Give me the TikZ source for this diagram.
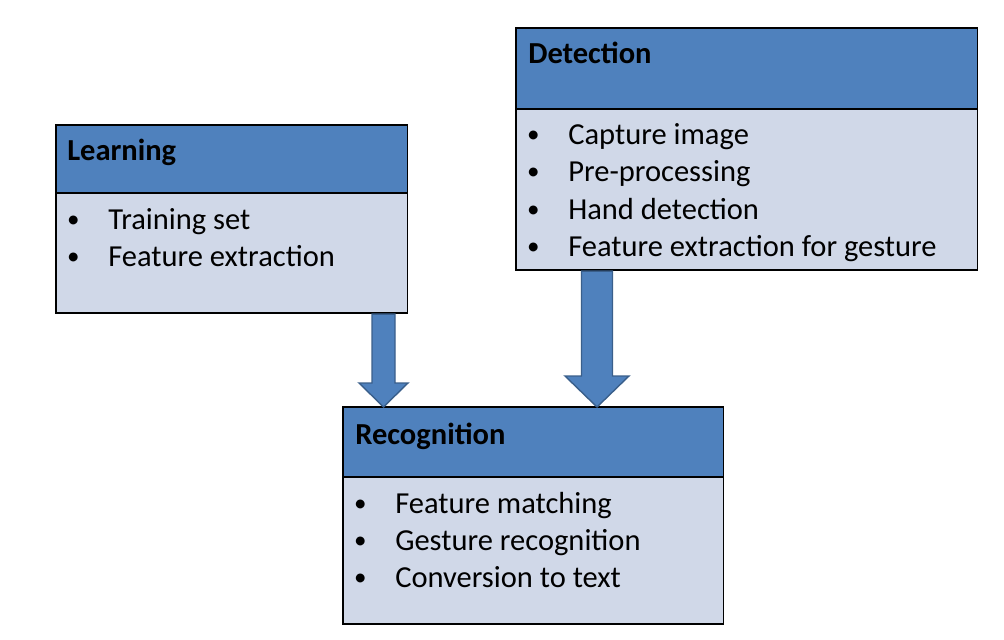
\documentclass[tikz,border=0pt]{standalone}
\usepackage{fontspec}
\usepackage{graphicx}
\setmainfont{Carlito}
\usetikzlibrary{calc,positioning}
\definecolor{headblue}{HTML}{4F81BD}
\definecolor{bodyblue}{HTML}{D0D8E8}
\definecolor{arrowedge}{HTML}{3A5F8B}
\newcommand{\boxfont}{\fontsize{21.7}{26}\selectfont}
\tikzset{head/.style={draw=black, fill=headblue, line width=.8pt, inner sep=0pt, outer sep=0pt, anchor=north west}, listbox/.style={draw=black, fill=bodyblue, line width=.8pt, inner sep=0pt, outer sep=0pt}, title/.style={font=\boxfont\bfseries, inner sep=0pt, anchor=base west}, item/.style={font=\boxfont, inner sep=0pt, anchor=base west}, blockarrow/.style={draw=arrowedge, fill=headblue, line width=1pt, line join=miter}}
% shaft start, tip, shaft half width, head half width, head length
\newcommand{\bigarrow}[5]{\draw[blockarrow] ($(#1)+(-#3,0)$) -- ($(#2)+(-#3,#5)$) -- ($(#2)+(-#4,#5)$) -- (#2) -- ($(#2)+(#4,#5)$) -- ($(#2)+(#3,#5)$) -- ($(#1)+(#3,0)$) -- cycle;}
\newcommand{\blt}{\llap{\makebox[1.75cm]{\raisebox{0.05em}{\scalebox{0.82}{\textbullet}}}}}

\begin{document}
\begin{tikzpicture}[x=0.025cm, y=0.025cm]
\useasboundingbox (0,0) rectangle (1004,639);
% Learning
\node[head, minimum width=8.775cm, minimum height=1.7cm] (learnHead) at (56,514) {};
\node[listbox, below=0pt of learnHead.south west, anchor=north west, minimum width=8.775cm, minimum height=3cm] (learnBody) {};
\node[title] (learnTitle) at ($(learnHead.north west)+(11,-35.5)$) {Learning};
\foreach \t [count=\i] in {Training set, Feature extraction}
  \node[item] (learnItem\i) at ($(learnBody.north west)+(52,-36-37*\i+37)$) {\blt\t};
% Detection
\node[head, minimum width=11.525cm, minimum height=2.025cm] (detHead) at (516,611) {};
\node[listbox, below=0pt of detHead.south west, anchor=north west, minimum width=11.525cm, minimum height=4.025cm] (detBody) {};
\node[title] (detTitle) at ($(detHead.north west)+(12,-36)$) {Detection};
\foreach \t [count=\i] in {Capture image, Pre-processing, Hand detection, Feature extraction for gesture}
  \node[item] (detItem\i) at ($(detBody.north west)+(52,-35-37.5*\i+37.5)$) {\blt\t};
% Recognition
\node[head, minimum width=9.5cm, minimum height=1.75cm] (recHead) at (343,232) {};
\node[listbox, below=0pt of recHead.south west, anchor=north west, minimum width=9.5cm, minimum height=3.675cm] (recBody) {};
\node[title] (recTitle) at ($(recHead.north west)+(12,-37)$) {Recognition};
\foreach \t [count=\i] in {Feature matching, Gesture recognition, Conversion to text}
  \node[item] (recItem\i) at ($(recBody.north west)+(52,-36-37*\i+37)$) {\blt\t};
% arrows
\coordinate (learnOut) at ($(learnBody.south west)+(327.5,-1)$);
\coordinate (detOut) at ($(detBody.south west)+(81,-1)$);
\bigarrow{learnOut}{learnOut |- recHead.north}{11.5}{24.5}{24}
\bigarrow{detOut}{detOut |- recHead.north}{15.5}{32}{31}
\end{tikzpicture}
\end{document}
